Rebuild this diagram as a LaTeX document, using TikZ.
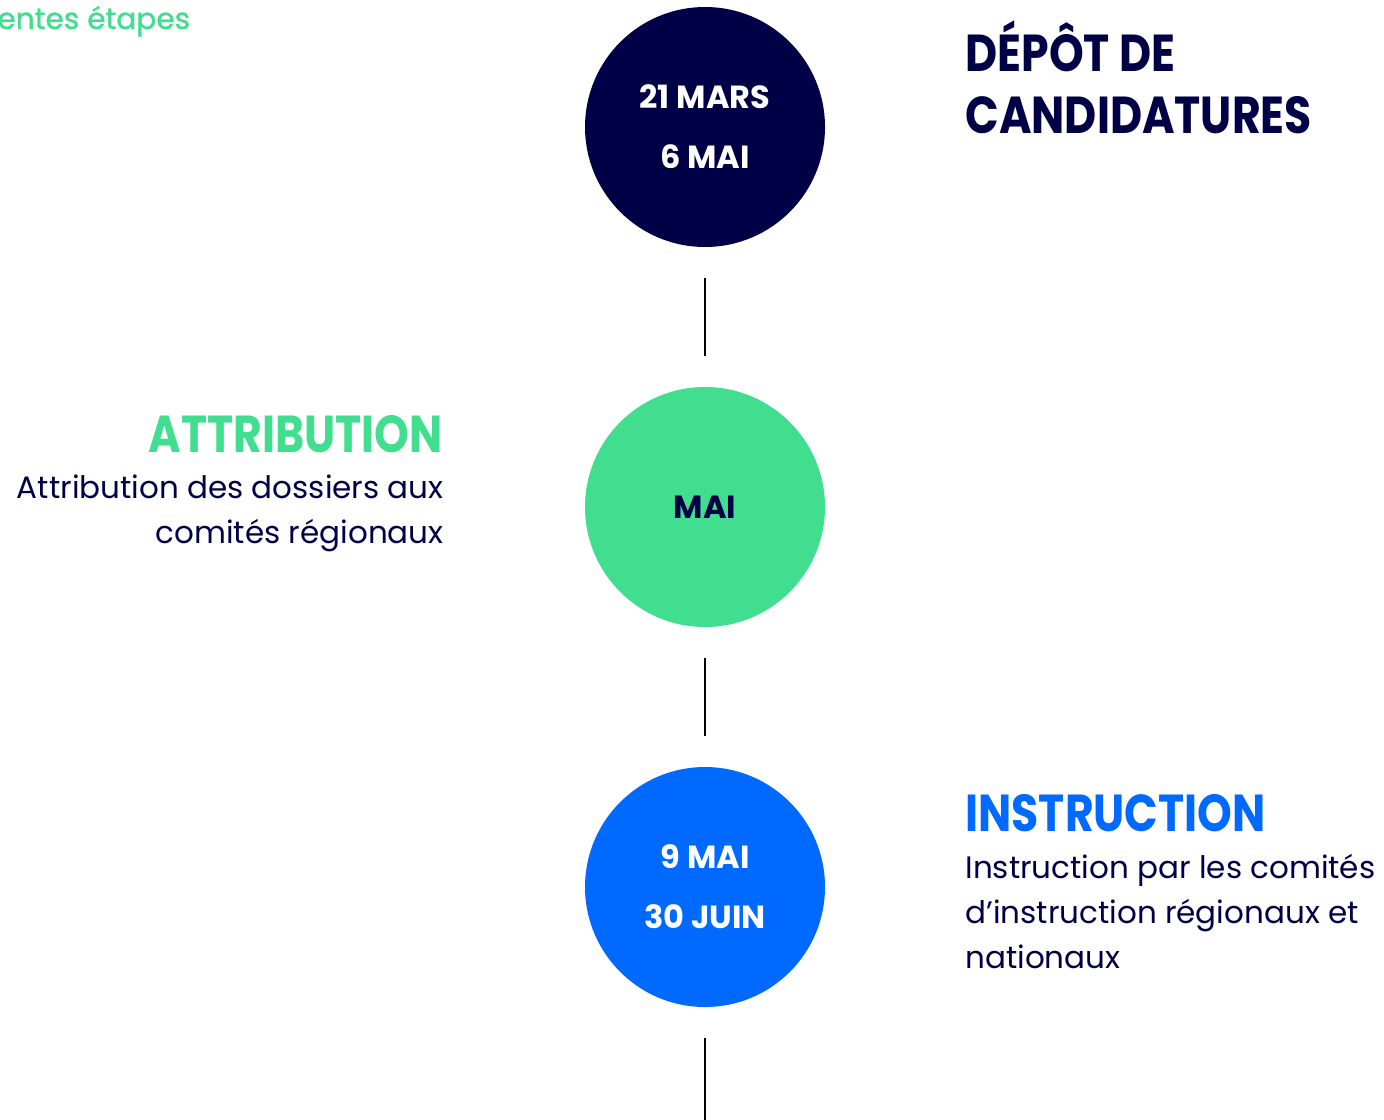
\documentclass[tikz,border=0pt]{standalone}
\usepackage{fontspec}
\setmainfont{Poppins}
\newfontfamily\titrefont{Poppins}[FakeStretch=0.85]
\newfontfamily\grasfont{Poppins}[FakeBold=1.2]
\usetikzlibrary{positioning}
\definecolor{navy}{RGB}{0,0,70}
\definecolor{vert}{RGB}{64,222,142}
\definecolor{bleu}{RGB}{0,105,255}

\begin{document}
\begin{tikzpicture}[x=0.5pt,y=-0.5pt,node distance=190pt]
    \tikzstyle{etape} = [circle, minimum size=120pt, inner sep=0pt, text=white, align=center, font=\bfseries\fontsize{16}{30}\selectfont]
    \tikzstyle{titre} = [inner sep=0pt, font=\titrefont\bfseries\fontsize{26}{31}\selectfont]
    \tikzstyle{texte} = [inner sep=0pt, text=navy, font=\fontsize{15.5}{22.5}\selectfont]
    \tikzstyle{trait} = [line width=1pt, black, shorten <=15.5pt, shorten >=15.5pt]

    \useasboundingbox (0,0) rectangle (1384,1119);

    \node (etapes) [anchor=base west, inner sep=0pt, text=vert, font=\grasfont\fontsize{14.8}{20}\selectfont] at (-3,29) {entes étapes};

    \node (depot) [etape, fill=navy] at (705,127) {21 MARS\\6 MAI};
    \node (attrib) [etape, fill=vert, text=navy, below of=depot] {MAI};
    \node (instr) [etape, fill=bleu, below of=attrib] {9 MAI\\30 JUIN};
    \coordinate (fin) at (705,1140);

    \draw [trait] (depot) -- (attrib);
    \draw [trait] (attrib) -- (instr);
    \draw [trait, shorten >=0pt] (instr) -- (fin);

    % titres et textes (base = derniere ligne)
    \node (titredepot) [titre, text=navy, anchor=base west, align=left] at (965,133) {DÉPÔT DE\\CANDIDATURES};
    \node (titreattrib) [titre, text=vert, anchor=base east] at (443,452) {ATTRIBUTION};
    \node (texteattrib) [texte, anchor=base east, align=right] at (444,543) {Attribution des dossiers aux\\comités régionaux};
    \node (titreinstr) [titre, text=bleu, anchor=base west] at (965,831) {INSTRUCTION};
    \node (texteinstr) [texte, anchor=base west, align=left] at (965,968) {Instruction par les comités\\d’instruction régionaux et\\nationaux};
\end{tikzpicture}
\end{document}
